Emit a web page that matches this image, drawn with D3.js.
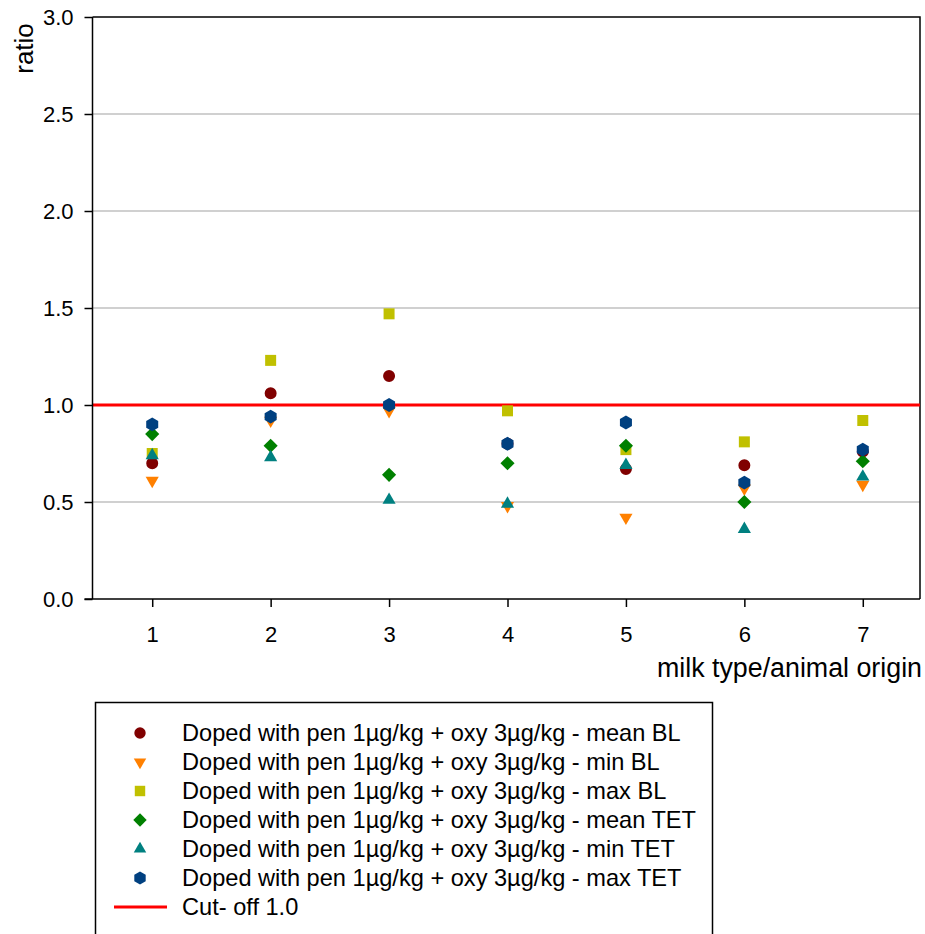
<!DOCTYPE html>
<html>
<head>
<meta charset="utf-8">
<script src="https://cdn.jsdelivr.net/npm/d3@7"></script>
<style>
  body { margin: 0; background: #fff; }
  svg { display: block; font-family: "Liberation Sans", Arial, sans-serif; }
</style>
</head>
<body>
<svg id="chart" width="925" height="934"></svg>
<script>
const categories = [1, 2, 3, 4, 5, 6, 7];
const meanBL  = [0.70, 1.06, 1.15, 0.80, 0.67, 0.69, 0.76];
const minBL   = [0.61, 0.92, 0.97, 0.48, 0.42, 0.57, 0.59];
const maxBL   = [0.75, 1.23, 1.47, 0.97, 0.77, 0.81, 0.92];
const meanTET = [0.85, 0.79, 0.64, 0.70, 0.79, 0.50, 0.71];
const minTET  = [0.74, 0.73, 0.51, 0.49, 0.69, 0.36, 0.63];
const maxTET  = [0.90, 0.94, 1.00, 0.80, 0.91, 0.60, 0.77];
const cutoff = 1.0;
const yTicks = [0.0, 0.5, 1.0, 1.5, 2.0, 2.5, 3.0];
const legendLabels = [
  "Doped with pen 1µg/kg + oxy 3µg/kg - mean BL",
  "Doped with pen 1µg/kg + oxy 3µg/kg - min BL",
  "Doped with pen 1µg/kg + oxy 3µg/kg - max BL",
  "Doped with pen 1µg/kg + oxy 3µg/kg - mean TET",
  "Doped with pen 1µg/kg + oxy 3µg/kg - min TET",
  "Doped with pen 1µg/kg + oxy 3µg/kg - max TET",
  "Cut- off 1.0"
];

const hexagon = {
  draw(ctx, size) {
    const r = Math.sqrt(size / (1.5 * Math.sqrt(3)));
    for (let i = 0; i < 6; i++) {
      const a = Math.PI / 6 * (2 * i) - Math.PI / 2;
      const px = r * Math.cos(a), py = r * Math.sin(a);
      if (i === 0) ctx.moveTo(px, py); else ctx.lineTo(px, py);
    }
    ctx.closePath();
  }
};
const diamondSq = {
  draw(ctx, size) {
    const r = Math.sqrt(size / 2);
    ctx.moveTo(0, -r); ctx.lineTo(r, 0); ctx.lineTo(0, r); ctx.lineTo(-r, 0); ctx.closePath();
  }
};

const series = [
  { values: meanBL,  color: "#800000", type: d3.symbolCircle,   size: 113, rot: 0 },
  { values: minBL,   color: "#ff8000", type: d3.symbolTriangle, size: 75,  rot: 180 },
  { values: maxBL,   color: "#c0c000", type: d3.symbolSquare,   size: 121, rot: 0 },
  { values: meanTET, color: "#008000", type: diamondSq,         size: 100, rot: 0 },
  { values: minTET,  color: "#008080", type: d3.symbolTriangle, size: 75,  rot: 0 },
  { values: maxTET,  color: "#004080", type: hexagon,           size: 125, rot: 0 }
];

const svg = d3.select("#chart");
const pLeft = 92.5, pRight = 920, pTop = 17, pBottom = 599;

const x = d3.scaleLinear().domain([0.5, 7.5]).range([pLeft + 0.5, pRight + 2]);
const y = d3.scaleLinear().domain([0, 3]).range([pBottom, pTop]);

// gridlines
svg.append("g").selectAll("line")
  .data(yTicks.filter(t => t > 0 && t < 3))
  .join("line")
  .attr("x1", pLeft).attr("x2", pRight)
  .attr("y1", d => y(d)).attr("y2", d => y(d))
  .attr("stroke", "#c0c0c0").attr("stroke-width", 1.5);

// frame top/right
svg.append("path")
  .attr("d", `M${pLeft},${y(3)}H${pRight}V${pBottom}`)
  .attr("fill", "none").attr("stroke", "#000").attr("stroke-width", 1.5);

// cutoff line
svg.append("line")
  .attr("x1", pLeft).attr("x2", pRight)
  .attr("y1", y(cutoff)).attr("y2", y(cutoff))
  .attr("stroke", "#ff0000").attr("stroke-width", 3);

// axes
const yAxis = d3.axisLeft(y).tickValues(yTicks).tickFormat(d3.format(".1f")).tickSize(8).tickPadding(11);
const gy = svg.append("g").attr("transform", `translate(${pLeft},0)`).call(yAxis);
gy.select(".domain").attr("stroke-width", 1.5).attr("d", `M0,${pTop}V${pBottom}`);
gy.selectAll(".tick line").attr("stroke-width", 1.5);
gy.selectAll("text").attr("font-size", 22).attr("fill", "#000").attr("font-family", "Liberation Sans, Arial, sans-serif");

const xAxis = d3.axisBottom(x).tickValues(categories).tickFormat(d3.format("d")).tickSize(8).tickPadding(19);
const gx = svg.append("g").attr("transform", `translate(0,${pBottom})`).call(xAxis);
gx.select(".domain").attr("stroke-width", 1.5).attr("d", `M${pLeft - 8},0H${pRight}`);
gx.selectAll(".tick line").attr("stroke-width", 1.5);
gx.selectAll("text").attr("font-size", 22).attr("fill", "#000").attr("font-family", "Liberation Sans, Arial, sans-serif");

// axis titles
svg.append("text")
  .attr("transform", "translate(33,48.5) rotate(-90)")
  .attr("text-anchor", "middle")
  .attr("font-size", 26).text("ratio");
svg.append("text")
  .attr("x", 922).attr("y", 677)
  .attr("text-anchor", "end")
  .attr("font-size", 26.8).text("milk type/animal origin");

// points
series.forEach(s => {
  svg.append("g").selectAll("path")
    .data(categories.map((c, i) => ({ c, v: s.values[i] })))
    .join("path")
    .attr("transform", d => `translate(${x(d.c)},${y(d.v)}) rotate(${s.rot})`)
    .attr("d", d3.symbol().type(s.type).size(s.size)())
    .attr("fill", s.color);
});

// legend
const lg = svg.append("g");
lg.append("rect")
  .attr("x", 95.5).attr("y", 702.5).attr("width", 617).attr("height", 260)
  .attr("fill", "#fff").attr("stroke", "#000").attr("stroke-width", 1.5);
const rowY = i => 733 + i * 29;
series.forEach((s, i) => {
  lg.append("path")
    .attr("transform", `translate(140,${rowY(i)}) rotate(${s.rot})`)
    .attr("d", d3.symbol().type(s.type).size(s.size * 0.9)())
    .attr("fill", s.color);
});
lg.append("line")
  .attr("x1", 114).attr("x2", 167).attr("y1", rowY(6)).attr("y2", rowY(6))
  .attr("stroke", "#ff0000").attr("stroke-width", 3);
lg.selectAll("text.lab")
  .data(legendLabels)
  .join("text")
  .attr("class", "lab")
  .attr("x", 182).attr("y", (d, i) => rowY(i))
  .attr("dy", "0.36em")
  .attr("font-size", 23.6)
  .text(d => d);
</script>
</body>
</html>
